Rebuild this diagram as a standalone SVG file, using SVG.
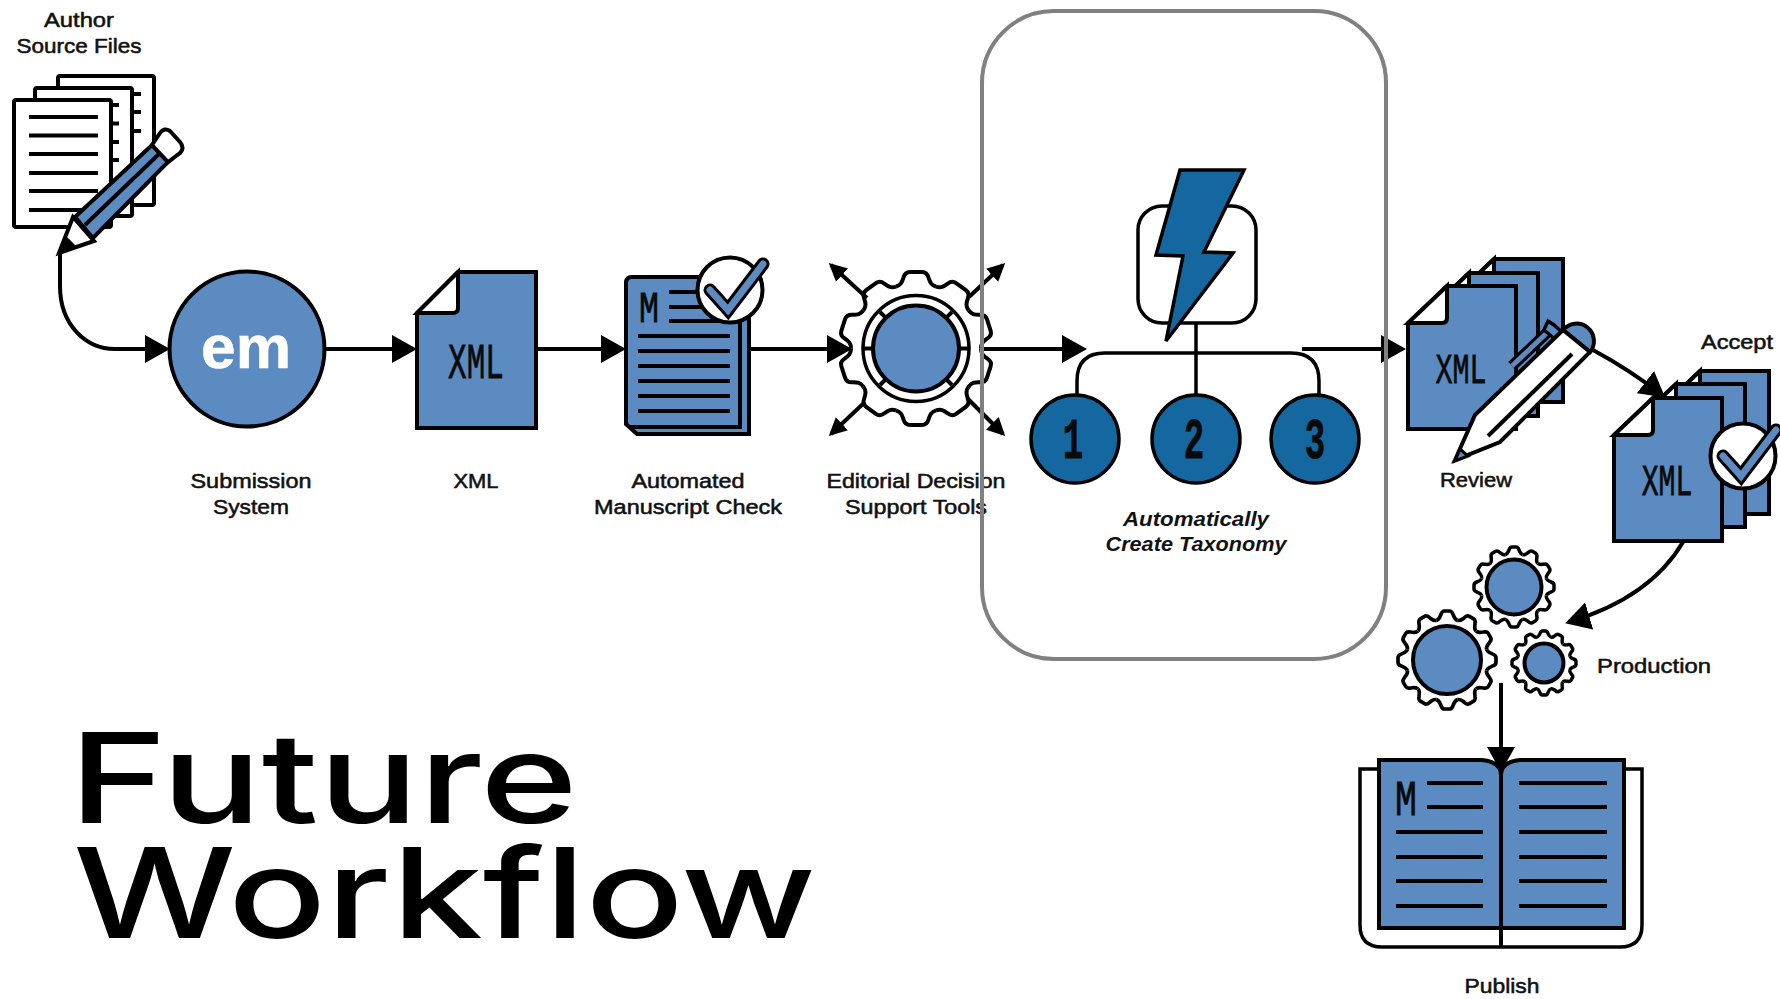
<svg xmlns="http://www.w3.org/2000/svg" xmlns:xlink="http://www.w3.org/1999/xlink" width="1780" height="999" viewBox="0 0 1780 999">
<style>
.ln{stroke:#000;stroke-width:4;fill:none}
.thin{stroke:#000;stroke-width:3.5;fill:none}
.blue{fill:#5b8bc1;stroke:#000;stroke-width:4}
.dark{fill:#14689f;stroke:#000;stroke-width:3.5}
.white{fill:#fff;stroke:#000;stroke-width:4}
.conn{stroke:#000;stroke-width:4;fill:none}
.lb{font-family:"Liberation Sans",Arial,sans-serif;font-size:21px;fill:#111;stroke:#111;stroke-width:.55;text-anchor:middle}
.it{font-weight:bold;font-style:italic;stroke:none}
.mono{font-family:"Liberation Mono","Courier New",monospace;fill:#0a0a0a;stroke:#0a0a0a;stroke-width:.8;text-anchor:middle}
.title{font-family:Inter,"Liberation Sans",sans-serif;font-weight:500;font-size:125px;fill:#000}
</style>
<defs>
<marker id="big" markerUnits="userSpaceOnUse" markerWidth="26" markerHeight="30" refX="21" refY="15" orient="auto" viewBox="0 0 26 30"><path d="M0,1 L25,15 L0,29 Z" fill="#000"/></marker>
<marker id="small" markerUnits="userSpaceOnUse" markerWidth="20" markerHeight="20" refX="15" refY="10" orient="auto" viewBox="0 0 20 20"><path d="M0,1 L18,10 L0,19 Z" fill="#000"/></marker>
<g id="doc"><path class="blue" d="M39,0 H108 V143 H0 V37 Z"/><path class="white" d="M39,0 L0,37 H34 Q39,37 39,32 Z"/></g>
<g id="check"><circle r="32.5" class="white"/><path d="M-20,0 L-2,20 L33,-26" fill="none" stroke="#000" stroke-width="13" stroke-linecap="round"/><path d="M-20,0 L-2,20 L33,-26" fill="none" stroke="#5b8bc1" stroke-width="7" stroke-linecap="round"/></g>
<path id="t10" d="M-20.1,-61.8 C-15.3,-63.4 -14,-66 -12.5,-71 Q-11,-76.5 -6,-76.5 L6,-76.5 Q11,-76.5 12.5,-71 C14,-66 15.3,-63.4 20.1,-61.8" fill="#fff" stroke="#000"/>
<g id="gear10"><circle r="63" fill="#fff"/><use xlink:href="#t10"/><use xlink:href="#t10" transform="rotate(36)"/><use xlink:href="#t10" transform="rotate(72)"/><use xlink:href="#t10" transform="rotate(108)"/><use xlink:href="#t10" transform="rotate(144)"/><use xlink:href="#t10" transform="rotate(180)"/><use xlink:href="#t10" transform="rotate(216)"/><use xlink:href="#t10" transform="rotate(252)"/><use xlink:href="#t10" transform="rotate(288)"/><use xlink:href="#t10" transform="rotate(324)"/></g>
<path id="t12" d="M-8.67,-32.36 C-6.25,-33 -6,-35 -5,-37 Q-4,-40 -2,-40 L2,-40 Q4,-40 5,-37 C6,-35 6.25,-33 8.67,-32.36" fill="#fff" stroke="#000"/>
<g id="gear12"><circle r="33" fill="#fff"/><use xlink:href="#t12"/><use xlink:href="#t12" transform="rotate(30)"/><use xlink:href="#t12" transform="rotate(60)"/><use xlink:href="#t12" transform="rotate(90)"/><use xlink:href="#t12" transform="rotate(120)"/><use xlink:href="#t12" transform="rotate(150)"/><use xlink:href="#t12" transform="rotate(180)"/><use xlink:href="#t12" transform="rotate(210)"/><use xlink:href="#t12" transform="rotate(240)"/><use xlink:href="#t12" transform="rotate(270)"/><use xlink:href="#t12" transform="rotate(300)"/><use xlink:href="#t12" transform="rotate(330)"/></g>
</defs>
<rect width="1780" height="999" fill="#fff"/>

<g id="author-files">
<rect class="white" x="58" y="76" width="96" height="129" rx="2"/>
<path class="ln" d="M133,94 H141 M133,112 H141 M133,131 H141"/>
<rect class="white" x="35" y="88" width="97" height="128" rx="2"/>
<path class="ln" d="M111,105 H119 M111,123.500 H119 M111,142 H119 M111,160 H119"/>
<rect class="white" x="14" y="100" width="97" height="127" rx="2"/>
<path class="ln" d="M29,117 H98 M29,135.500 H98 M29,154 H98 M29,173 H98 M29,191 H98 M29,210 H98"/>
<path class="blue" d="M75,217 L152,145 L168,162 L93,238 Z"/>
<path class="ln" d="M85,225 L160,153" stroke-width="3"/>
<path class="white" d="M152,145 L160,133 Q164,127 170,131 L180,142 Q185,148 180,153 L168,162 Z"/>
<path class="white" d="M73,217 L59,253 L94,241 Z"/>
<path d="M58,254 L65,235 L77,247 Z" fill="#000"/>
<text class="lb" x="79" y="27" textLength="70" lengthAdjust="spacingAndGlyphs">Author</text>
<text class="lb" x="79" y="53" textLength="125" lengthAdjust="spacingAndGlyphs">Source Files</text>
</g>

<g id="submission-system">
<circle class="blue" cx="247" cy="349" r="77.500"/>
<text x="246" y="368" font-family="Liberation Sans,Arial,sans-serif" font-weight="bold" font-size="61" fill="#fff" stroke="#fff" stroke-width=".6" text-anchor="middle" textLength="90" lengthAdjust="spacingAndGlyphs">em</text>
<text class="lb" x="251" y="488" textLength="121" lengthAdjust="spacingAndGlyphs">Submission</text>
<text class="lb" x="251" y="514" textLength="76" lengthAdjust="spacingAndGlyphs">System</text>
</g>

<g id="xml">
<path class="blue" d="M458,272 H536 V428 H417 V313 Z"/>
<path class="white" d="M458,272 L417,313 H453 Q458,313 458,308 Z"/>
<text class="mono" font-size="50" transform="translate(476,378) scale(.62,1)">XML</text>
<text class="lb" x="476" y="488" textLength="45" lengthAdjust="spacingAndGlyphs">XML</text>
</g>

<g id="manuscript-check">
<path class="blue" d="M632,277 H749 V434 H637 L626,424 V283 Q626,277 632,277 Z"/>
<path class="ln" d="M740,290 V427 H630"/>
<path class="ln" d="M669,292 H720 M669,307 H720 M669,321 H720 M638,336 H730 M638,351 H730 M638,366 H730 M638,381 H730 M638,396 H730 M638,411 H730" stroke-width="3.500"/>
<text class="mono" font-size="45" transform="translate(649,322) scale(.74,1)">M</text>
<use xlink:href="#check" x="730" y="290"/>
<text class="lb" x="688" y="488" textLength="113" lengthAdjust="spacingAndGlyphs">Automated</text>
<text class="lb" x="688" y="514" textLength="188" lengthAdjust="spacingAndGlyphs">Manuscript Check</text>
</g>

<g id="editorial-tools">
<use xlink:href="#gear10" transform="translate(916,348.500)" stroke-width="4"/>
<circle class="white" cx="916" cy="348.500" r="53" style="stroke-width:3.500"/>
<path class="ln" d="M863,348.500 H873 M959,348.500 H969 M880,312 L887,319 M952,312 L945,319 M880,385 L887,378 M952,385 L945,378" stroke-width="2.500"/>
<circle class="blue" cx="916" cy="348.500" r="43"/>
<text class="lb" x="916" y="488" textLength="179" lengthAdjust="spacingAndGlyphs">Editorial Decision</text>
<text class="lb" x="916" y="514" textLength="142" lengthAdjust="spacingAndGlyphs">Support Tools</text>
</g>

<g id="taxonomy">
<rect class="white" x="1138" y="206" width="118" height="117" rx="24" style="stroke-width:3.500"/>
<path class="thin" d="M1196,323 V396 M1077,396 V381 Q1077,353 1105,353 H1291 Q1319,353 1319,381 V396"/>
<path class="dark" d="M1180,170 L1244,170 L1204,252 L1233,253 L1166,341 L1183,256 L1156,255 Z"/>
<circle class="dark" cx="1075" cy="439" r="44"/>
<circle class="dark" cx="1196" cy="439" r="44"/>
<circle class="dark" cx="1315" cy="439" r="44"/>
<text class="mono" font-weight="bold" font-size="57" transform="translate(1073,458) scale(.6,1)">1</text>
<text class="mono" font-weight="bold" font-size="57" transform="translate(1194,458) scale(.6,1)">2</text>
<text class="mono" font-weight="bold" font-size="57" transform="translate(1315,458) scale(.6,1)">3</text>
<text class="lb it" x="1196" y="526" textLength="146" lengthAdjust="spacingAndGlyphs">Automatically</text>
<text class="lb it" x="1196" y="551" textLength="181" lengthAdjust="spacingAndGlyphs">Create Taxonomy</text>
</g>

<g id="review">
<use xlink:href="#doc" x="1455" y="259"/>
<use xlink:href="#doc" x="1430" y="273"/>
<use xlink:href="#doc" x="1408" y="286"/>
<text class="mono" font-size="43" transform="translate(1461,383) scale(.66,1)">XML</text>
<path d="M1512,366 L1552,328" stroke="#000" stroke-width="11" fill="none"/>
<path d="M1512,366 L1552,328" stroke="#5b8bc1" stroke-width="5" fill="none"/>
<path d="M1548,321 L1554,325 L1563,333 L1556,340 L1544,330 Z" fill="#5b8bc1" stroke="#000" stroke-width="3.500"/>
<path class="blue" d="M1563,330 A17,17 0 1 1 1590,352 Z"/>
<path class="white" d="M1455,460 L1475,415 L1563,330 L1590,352 L1500,442 Z"/>
<path class="ln" d="M1488,436 L1572,354" stroke-width="3"/>
<path d="M1455,461 L1460,449 L1468,456 Z" fill="#5b8bc1" stroke="#000" stroke-width="3"/>
<text class="lb" x="1476" y="487" textLength="72" lengthAdjust="spacingAndGlyphs">Review</text>
</g>

<g id="accept">
<use xlink:href="#doc" x="1661" y="371"/>
<use xlink:href="#doc" x="1637" y="384"/>
<use xlink:href="#doc" x="1614" y="398"/>
<text class="mono" font-size="44" transform="translate(1667,495) scale(.64,1)">XML</text>
<use xlink:href="#check" x="1743" y="456"/>
<text class="lb" x="1737" y="349" textLength="72" lengthAdjust="spacingAndGlyphs">Accept</text>
</g>

<g id="production">
<use xlink:href="#gear12" transform="translate(1514,587)" stroke-width="3.500"/>
<circle class="blue" cx="1514" cy="587" r="27.500"/>
<use xlink:href="#gear12" transform="translate(1447,660) scale(1.225)" stroke-width="3"/>
<circle class="blue" cx="1447" cy="660" r="34"/>
<use xlink:href="#gear12" transform="translate(1544,663) scale(.8)" stroke-width="4.300"/>
<circle class="blue" cx="1544" cy="663" r="19.500"/>
<text class="lb" x="1654" y="673" textLength="114" lengthAdjust="spacingAndGlyphs">Production</text>
</g>

<g id="publish">
<path class="white" d="M1360,769 H1642 V925 Q1642,947 1620,947 H1382 Q1360,947 1360,925 Z" style="stroke-width:3.500"/>
<path class="blue" d="M1379,760 H1482 Q1501,762 1501,775 Q1501,762 1520,760 H1624 V928 H1379 Z"/>
<path class="ln" d="M1501,775 V947"/>
<path class="ln" d="M1427,783 H1483 M1427,807 H1483 M1396,832 H1483 M1396,857 H1483 M1396,881 H1483 M1396,906 H1483 M1519,783 H1607 M1519,807 H1607 M1519,832 H1607 M1519,857 H1607 M1519,881 H1607 M1519,906 H1607" stroke-width="3.500"/>
<text class="mono" font-size="50" transform="translate(1406,815) scale(.73,1)">M</text>
<text class="lb" x="1502" y="993" textLength="75" lengthAdjust="spacingAndGlyphs">Publish</text>
</g>

<g id="connectors">
<path class="conn" d="M60,253 V286 C60,325 86,349 115,349 H166" marker-end="url(#big)"/>
<path class="conn" d="M325,349 H413" marker-end="url(#big)"/>
<path class="conn" d="M536,349 H622" marker-end="url(#big)"/>
<path class="conn" d="M749,349 H848" marker-end="url(#big)"/>
<path class="conn" d="M867,298 L831,265" stroke-width="3.500" marker-end="url(#small)"/>
<path class="conn" d="M969,297 L1003,265" stroke-width="3.500" marker-end="url(#small)"/>
<path class="conn" d="M865,402 L831,434" stroke-width="3.500" marker-end="url(#small)"/>
<path class="conn" d="M967,398 L1003,434" stroke-width="3.500" marker-end="url(#small)"/>
<path class="conn" d="M983,349 H1083" marker-end="url(#big)"/>
<path class="conn" d="M1302,349 H1402" stroke-width="3" marker-end="url(#big)"/>
<path class="conn" d="M1593,350 Q1630,370 1662,395" marker-end="url(#big)"/>
<path class="conn" d="M1683,542 Q1650,598 1569,622" marker-end="url(#big)"/>
<path class="conn" d="M1501,683 V768" stroke-width="3.500" marker-end="url(#big)"/>
</g>

<rect id="highlight" x="982" y="11" width="404" height="648" rx="72" fill="none" stroke="#808080" stroke-width="4"/>

<g id="title">
<text class="title" x="69" y="823" textLength="509" lengthAdjust="spacingAndGlyphs">Future</text>
<text class="title" x="73" y="938" textLength="743" lengthAdjust="spacingAndGlyphs">Workflow</text>
</g>
</svg>
